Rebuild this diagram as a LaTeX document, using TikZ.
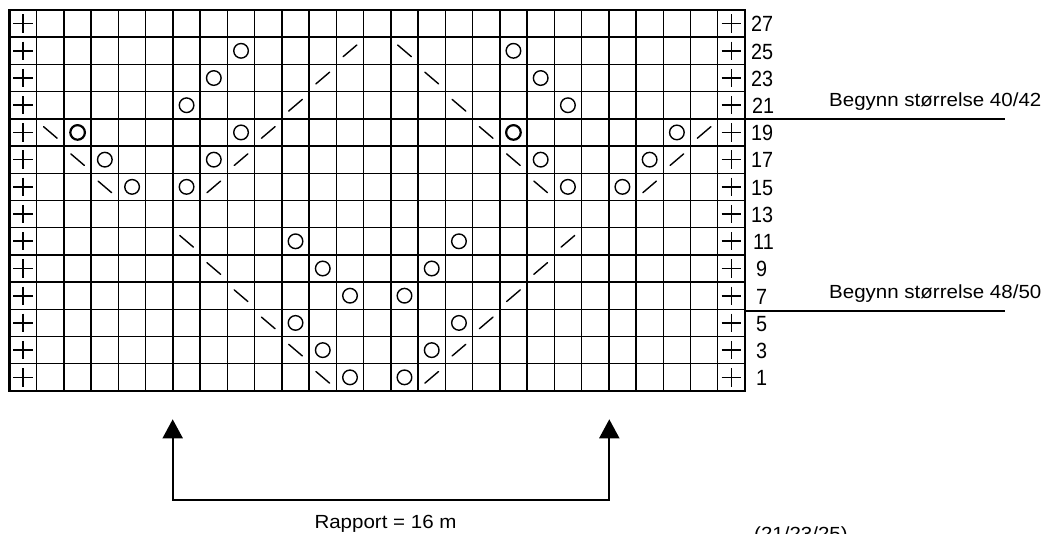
\documentclass[tikz,border=0pt]{standalone}
\usepackage{fontspec}
\setmainfont{Liberation Sans}
\newfontfamily\labfont[FakeStretch=1.08]{Liberation Sans}
\newfontfamily\numfont[FakeStretch=0.9]{Liberation Sans}
\usetikzlibrary{arrows.meta}
\begin{document}
\begin{tikzpicture}[x=1pt,y=-1pt,
  gridline/.style={line width=1.5pt,black},
  border/.style={line width=2.2pt,black},
  sym/.style={line width=1.4pt,black,line cap=round},
  boldsym/.style={line width=2.2pt,black},
  plussym/.style={line width=1.6pt,black},
  rownum/.style={anchor=base west,inner sep=0pt,font=\numfont\fontsize{22}{24}\selectfont},
  lab/.style={anchor=base west,inner sep=0pt,font=\labfont\fontsize{19}{21}\selectfont},
  marker/.style={line width=2.3pt,black},
  arrowline/.style={line width=2pt,black,{Triangle[width=20pt,length=19pt]}-{Triangle[width=20pt,length=19pt]}}
]
\useasboundingbox (0,0) rectangle (1047,533);
\def\gx{9.5}\def\gy{10}\def\cw{27.24}\def\ch{27.21}
% grid
\foreach \i in {1,...,26}
  \draw[gridline] ({\gx+\i*\cw},\gy) -- ({\gx+\i*\cw},{\gy+14*\ch});
\foreach \j in {1,...,13}
  \draw[gridline] (\gx,{\gy+\j*\ch}) -- ({\gx+27*\cw},{\gy+\j*\ch});
\draw[border] (\gx,\gy) rectangle ({\gx+27*\cw},{\gy+14*\ch});
% symbol macros: #1 column (1..27), #2 row index (0 = top)
\newcommand\yo[2]{\draw[sym] ({\gx+(#1-0.5)*\cw},{\gy+(#2+0.5)*\ch}) circle (7.3pt);}
\newcommand\byo[2]{\draw[boldsym] ({\gx+(#1-0.5)*\cw},{\gy+(#2+0.5)*\ch}) circle (7.3pt);}
\newcommand\rs[2]{\draw[sym] ({\gx+(#1-0.5)*\cw-6.8},{\gy+(#2+0.5)*\ch+5.8}) -- ({\gx+(#1-0.5)*\cw+6.8},{\gy+(#2+0.5)*\ch-5.8});}
\newcommand\ls[2]{\draw[sym] ({\gx+(#1-0.5)*\cw-6.8},{\gy+(#2+0.5)*\ch-5.8}) -- ({\gx+(#1-0.5)*\cw+6.8},{\gy+(#2+0.5)*\ch+5.8});}
\newcommand\pl[2]{\draw[plussym] ({\gx+(#1-0.5)*\cw-9.7},{\gy+(#2+0.5)*\ch}) -- ({\gx+(#1-0.5)*\cw+9.7},{\gy+(#2+0.5)*\ch})
  ({\gx+(#1-0.5)*\cw},{\gy+(#2+0.5)*\ch-9.2}) -- ({\gx+(#1-0.5)*\cw},{\gy+(#2+0.5)*\ch+9.2});}
% edge stitches
\foreach \r in {0,...,13} {\pl{1}{\r}\pl{27}{\r}}
% row 25
\yo{9}{1}\rs{13}{1}\ls{15}{1}\yo{19}{1}
% row 23
\yo{8}{2}\rs{12}{2}\ls{16}{2}\yo{20}{2}
% row 21
\yo{7}{3}\rs{11}{3}\ls{17}{3}\yo{21}{3}
% row 19
\ls{2}{4}\byo{3}{4}\yo{9}{4}\rs{10}{4}\ls{18}{4}\byo{19}{4}\yo{25}{4}\rs{26}{4}
% row 17
\ls{3}{5}\yo{4}{5}\yo{8}{5}\rs{9}{5}\ls{19}{5}\yo{20}{5}\yo{24}{5}\rs{25}{5}
% row 15
\ls{4}{6}\yo{5}{6}\yo{7}{6}\rs{8}{6}\ls{20}{6}\yo{21}{6}\yo{23}{6}\rs{24}{6}
% row 11
\ls{7}{8}\yo{11}{8}\yo{17}{8}\rs{21}{8}
% row 9
\ls{8}{9}\yo{12}{9}\yo{16}{9}\rs{20}{9}
% row 7
\ls{9}{10}\yo{13}{10}\yo{15}{10}\rs{19}{10}
% row 5
\ls{10}{11}\yo{11}{11}\yo{17}{11}\rs{18}{11}
% row 3
\ls{11}{12}\yo{12}{12}\yo{16}{12}\rs{17}{12}
% row 1
\ls{12}{13}\yo{13}{13}\yo{15}{13}\rs{16}{13}
% row numbers
\foreach \r/\t/\xo in {0/27/751,1/25/751,2/23/751,3/21/752,4/19/751,5/17/751,6/15/751,7/13/751,8/11/753,9/9/756,10/7/756,11/5/756,12/3/756,13/1/756}
  \node[rownum] (n\t) at (\xo,{\gy+(\r+0.5)*\ch+8.3}) {\t};
% size markers
\coordinate (m1a) at ({\gx+27*\cw},{\gy+4*\ch+0.5});
\coordinate (m1b) at (1005,{\gy+4*\ch+0.5});
\draw[marker] (m1a) -- (m1b);
\node[lab] (s1) at (829,106) {Begynn størrelse 40/42};
\coordinate (m2a) at ({\gx+27*\cw},{\gy+11*\ch+1.5});
\coordinate (m2b) at (1005,{\gy+11*\ch+1.5});
\draw[marker] (m2a) -- (m2b);
\node[lab] (s2) at (829,298.5) {Begynn størrelse 48/50};
% repeat arrows
\coordinate (al) at (172.7,419.3);
\coordinate (bl) at (172.7,500);
\coordinate (br) at (609.3,500);
\coordinate (ar) at (609.3,419.3);
\draw[arrowline] (al) -- (bl) -- (br) -- (ar);
\node[anchor=base,inner sep=0pt,font=\labfont\fontsize{19}{21}\selectfont] (rap) at (385.5,528.5) {Rapport = 16 m};
\node[lab] (sz) at (754,540.5) {(21/23/25)};
\end{tikzpicture}
\end{document}
